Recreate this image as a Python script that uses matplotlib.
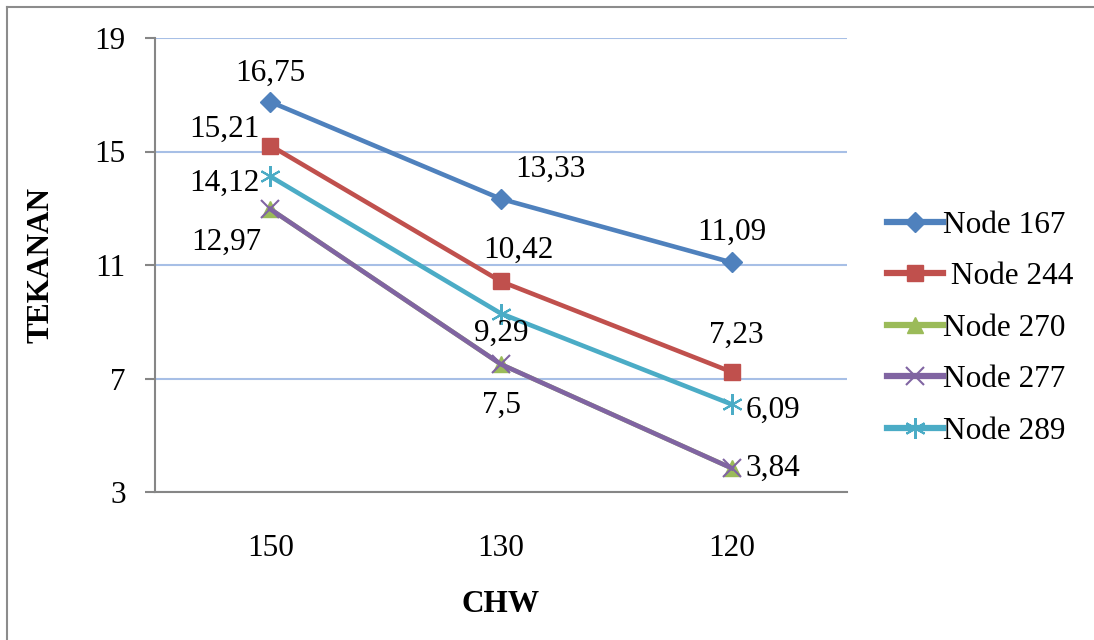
import matplotlib.pyplot as plt
from matplotlib.lines import Line2D

plt.rcParams['font.family'] = ['Liberation Serif', 'DejaVu Serif']

# data
chw = ['150', '130', '120']
node_167 = [16.75, 13.33, 11.09]
node_244 = [15.21, 10.42, 7.23]
node_270 = [12.97, 7.5, 3.84]
node_277 = [12.97, 7.5, 3.84]
node_289 = [14.12, 9.29, 6.09]

names = ['Node 167', ' Node 244', 'Node 270', 'Node 277', 'Node 289']
series = [node_167, node_244, node_270, node_277, node_289]
colors = ['#4F81BD', '#C0504D', '#9BBB59', '#8064A2', '#4BACC6']
markers = ['D', 's', '^', 'x', (6, 2, 0)]
msizes = [10, 12, 12, 13, 15]

# label offsets in pixels (dx, dy) per series / point; None = no label
offsets = [
    [(0, 29), (49, 30), (0, 30)],
    [(-46, 16), (17, 31), (5, 37)],
    [None, None, None],
    [(-44, -33), (1, -41), (41, 0)],
    [(-46, -7), (0, -20), (41, -6)],
]

fs = 22.5

fig = plt.figure(figsize=(10.94, 6.4), dpi=100)
ax = fig.add_axes([155 / 1094, 1 - 492 / 640, 692 / 1094, 454 / 640])

x = range(len(chw))
for name, vals, c, m, ms, offs in zip(names, series, colors, markers, msizes, offsets):
    ax.plot(x, vals, color=c, lw=3.3, marker=m, ms=ms, mew=1.5 if m in ('x',) or isinstance(m, tuple) else 1,
            mec=c, mfc=c, label=name, zorder=3)
    for xi, v, off in zip(x, vals, offs):
        if off is None:
            continue
        ax.annotate(f'{v:g}'.replace('.', ','), (xi, v), xytext=off, textcoords='offset pixels',
                    ha='center', va='center', fontsize=fs, zorder=4)

ax.set_xlim(-0.5, 2.5)
ax.set_ylim(3, 19)
ax.set_yticks([3, 7, 11, 15, 19])
ax.set_xticks(list(x))
ax.set_xticklabels(chw)
ax.grid(axis='y', color='#A7BFE6', lw=1.5, zorder=0)
ax.set_axisbelow(True)

for s in ('top', 'right'):
    ax.spines[s].set_visible(False)
for s in ('left', 'bottom'):
    ax.spines[s].set_color('#868686')
    ax.spines[s].set_linewidth(1.5)

ax.tick_params(axis='y', direction='out', length=7, width=1.5, color='#868686', pad=14, labelsize=fs)
ax.tick_params(axis='x', length=0, pad=30, labelsize=fs)

ax.set_xlabel('CHW', fontsize=fs, fontweight='bold', labelpad=20)
ax.set_ylabel('TEKANAN', fontsize=fs, fontweight='bold', labelpad=28)

leg = ax.legend(loc='center left', bbox_to_anchor=(1.04, 0.361), frameon=False, fontsize=fs,
                handlelength=1.8, handletextpad=0.0, labelspacing=0.72, borderaxespad=0)
for h in leg.get_lines():
    h.set_linewidth(4.5)

# outer chart border (top and left visible)
fig.add_artist(Line2D([7 / 1094, 7 / 1094], [0, 1 - 7 / 640], color='#8C8C8C', lw=1.5))
fig.add_artist(Line2D([7 / 1094, 1], [1 - 7 / 640, 1 - 7 / 640], color='#8C8C8C', lw=1.5))

fig.savefig('out.png', dpi=100)
